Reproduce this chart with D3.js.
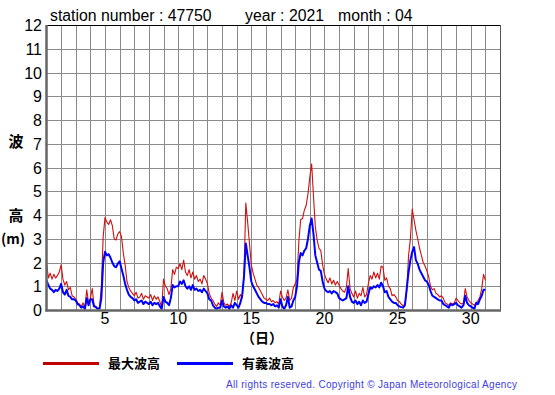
<!DOCTYPE html>
<html><head><meta charset="utf-8">
<script src="https://cdn.jsdelivr.net/npm/d3@7"></script>
<style>
body{margin:0;background:#fff;}
svg text{font-family:"Liberation Sans",Arial,sans-serif;}
</style></head>
<body><svg id="c" width="555" height="395"></svg>
<script>
// 3-hourly values, day 1 00h .. day 31 00h
const maxWave = [
 2.0,1.35,1.55,1.3,1.5,1.35,1.45,1.6,
 1.9,1.3,1.05,1.2,0.85,0.95,0.6,0.55,
 0.45,0.3,0.25,0.15,0.3,0.1,0.85,0.3,
 0.5,0.9,0.2,0.15,0.05,0.1,1.0,3.1,
 3.9,3.7,3.6,3.8,3.55,3.0,2.95,3.2,
 3.3,3.1,2.4,1.9,1.2,0.95,0.8,0.7,
 0.6,0.75,0.5,0.55,0.7,0.45,0.6,0.55,
 0.5,0.65,0.4,0.6,0.45,0.55,0.35,0.1,
 1.3,1.0,0.9,0.65,0.9,1.7,1.5,1.8,
 1.75,1.95,1.7,2.1,1.6,1.45,1.7,1.35,
 1.6,1.3,1.45,1.2,1.3,1.1,1.45,1.3,
 1.1,0.7,0.5,0.4,0.25,0.15,0.3,0.2,
 0.75,0.3,0.2,0.25,0.15,0.3,0.7,0.4,
 0.8,0.45,0.65,0.5,1.5,4.5,3.7,2.8,
 1.9,1.55,1.3,1.05,0.95,0.8,0.65,0.5,
 0.45,0.4,0.5,0.35,0.4,0.3,0.35,0.25,
 0.8,0.55,0.4,0.5,0.85,0.4,0.5,0.95,
 1.1,1.3,2.9,3.8,3.85,4.2,4.4,4.9,
 5.6,6.15,4.8,3.5,2.95,2.6,2.5,1.9,
 1.5,1.3,1.15,1.35,1.1,1.25,1.05,1.2,
 1.05,0.9,0.8,0.75,0.95,1.75,0.9,0.7,
 0.55,0.8,0.5,0.7,0.6,0.95,0.55,0.65,
 1.1,1.45,1.3,1.6,1.35,1.55,1.3,1.85,
 1.8,1.25,1.35,1.0,0.9,0.6,0.65,0.55,
 0.4,0.35,0.25,0.18,0.25,0.8,2.3,3.0,
 4.25,3.8,3.35,3.0,2.6,2.3,2.0,1.85,
 1.65,1.4,1.0,0.85,0.9,0.7,0.65,0.55,
 0.6,0.5,0.3,0.25,0.2,0.3,0.25,0.3,
 0.5,0.4,0.3,0.25,0.3,0.9,0.55,0.4,
 0.3,0.25,0.2,0.3,0.4,0.55,0.9,1.5,
 1.25
];
const sigWave = [
 1.25,1.05,0.9,0.85,0.75,0.85,0.8,0.9,
 1.1,0.75,0.65,0.85,0.6,0.55,0.45,0.45,
 0.4,0.25,0.2,0.1,0.15,0.05,0.5,0.2,
 0.45,0.45,0.15,0.12,0.05,0.05,0.5,2.0,
 2.45,2.3,2.35,2.2,2.0,1.85,1.8,1.95,
 2.05,1.75,1.45,1.1,0.85,0.65,0.55,0.5,
 0.4,0.45,0.3,0.35,0.4,0.25,0.35,0.3,
 0.25,0.35,0.2,0.3,0.25,0.3,0.15,0.05,
 0.55,0.35,0.3,0.2,0.5,1.05,0.95,1.0,
 1.0,1.2,1.1,1.25,1.0,0.9,1.0,0.85,
 1.05,0.85,0.9,0.8,0.85,0.75,0.9,0.8,
 0.7,0.45,0.4,0.2,0.1,0.05,0.1,0.1,
 0.4,0.15,0.1,0.15,0.05,0.2,0.1,0.3,
 0.2,0.1,0.3,0.6,1.4,2.8,2.3,1.8,
 1.2,1.0,0.85,0.7,0.55,0.45,0.35,0.3,
 0.3,0.25,0.25,0.2,0.25,0.15,0.2,0.1,
 0.45,0.15,0.05,0.2,0.55,0.1,0.15,0.4,
 0.55,1.0,2.0,2.4,2.3,2.5,2.6,3.0,
 3.55,3.85,3.2,2.3,2.0,1.7,1.65,1.2,
 0.9,0.8,0.75,0.8,0.7,0.8,0.75,0.7,
 0.5,0.45,0.4,0.45,0.5,1.0,0.55,0.35,
 0.3,0.4,0.25,0.35,0.2,0.4,0.3,0.35,
 0.65,0.95,0.9,1.0,0.95,1.05,0.95,1.15,
 1.0,0.75,0.8,0.55,0.45,0.35,0.3,0.3,
 0.2,0.15,0.12,0.1,0.2,0.9,1.6,2.1,
 2.45,2.65,2.1,1.95,1.7,1.55,1.4,1.25,
 1.2,1.05,0.8,0.6,0.55,0.5,0.45,0.4,
 0.4,0.25,0.2,0.15,0.1,0.25,0.2,0.25,
 0.3,0.2,0.15,0.1,0.2,0.6,0.3,0.2,
 0.15,0.1,0.05,0.3,0.25,0.45,0.6,0.85,
 0.85
];
const xTicks = [5,10,15,20,25,30];
const yTicks = [0,1,2,3,4,5,6,7,8,9,10,11,12];
const titleParts = ["station number : 47750","year : 2021","month : 04"];
const legendLabels = ["最大波高","有義波高"];
const stepsPerDay = 8;

const svg = d3.select("#c");
const L=46.5, R=500, T=25, B=310;
const x = d3.scaleLinear().domain([1,32]).range([L,R]);
const y = d3.scaleLinear().domain([0,12]).range([B,T]);

// grid
const g = svg.append("g");
g.selectAll("line.v").data(d3.range(2,32)).enter().append("line")
 .attr("x1",d=>Math.round(x(d))+0.5).attr("x2",d=>Math.round(x(d))+0.5)
 .attr("y1",T).attr("y2",B).attr("stroke","#8a8a8a").attr("stroke-width",1);
g.selectAll("line.h").data(d3.range(1,12)).enter().append("line")
 .attr("x1",L).attr("x2",R)
 .attr("y1",d=>Math.round(y(d))+0.5).attr("y2",d=>Math.round(y(d))+0.5)
 .attr("stroke","#8a8a8a").attr("stroke-width",1);

// frame
svg.append("line").attr("x1",L).attr("x2",R).attr("y1",T+0.5).attr("y2",T+0.5).attr("stroke","#000");
svg.append("line").attr("x1",R+0.5).attr("x2",R+0.5).attr("y1",T).attr("y2",B).attr("stroke","#555");

// data lines
const line = d3.line().x((d,i)=>x(1+i/stepsPerDay)).y(d=>y(d));
svg.append("path").datum(maxWave).attr("d",line).attr("fill","none")
 .attr("stroke","#d01010").attr("stroke-width",1.1).attr("stroke-linejoin","round");
svg.append("path").datum(sigWave).attr("d",line).attr("fill","none")
 .attr("stroke","#0000ff").attr("stroke-width",2).attr("stroke-linejoin","round");

// axes lines (thick)
svg.append("line").attr("x1",L).attr("x2",L).attr("y1",T).attr("y2",B+1.5).attr("stroke","#666").attr("stroke-width",2.5);
svg.append("line").attr("x1",L-1).attr("x2",R+1).attr("y1",B+0.5).attr("y2",B+0.5).attr("stroke","#666").attr("stroke-width",2.5);

// y tick labels
svg.selectAll("text.yt").data(yTicks).enter().append("text")
 .attr("x",42).attr("y",d=>y(d)+6).attr("text-anchor","end")
 .attr("font-size",16).attr("fill","#000").text(d=>d);
// x tick labels
svg.selectAll("text.xt").data(xTicks).enter().append("text")
 .attr("x",d=>x(d)).attr("y",324).attr("text-anchor","middle")
 .attr("font-size",16).attr("fill","#000").text(d=>d);

// axis titles
const jp = '"Noto Sans CJK JP",sans-serif';
svg.append("text").attr("x",16).attr("y",147).attr("text-anchor","middle").attr("font-size",15).attr("font-weight","bold").style("font-family",jp).text("波");
svg.append("text").attr("x",16).attr("y",221).attr("text-anchor","middle").attr("font-size",15).attr("font-weight","bold").style("font-family",jp).text("高");
svg.append("text").attr("x",13).attr("y",244).attr("text-anchor","middle").attr("font-size",14).attr("font-weight","bold").style("font-family",jp).text("(m)");
svg.append("text").attr("x",262).attr("y",343).attr("text-anchor","middle").attr("font-size",14).attr("font-weight","bold").style("font-family",jp).text("（日）");

// title
const tx=[50,245,338];
titleParts.forEach((t,i)=>svg.append("text").attr("x",tx[i]).attr("y",21).attr("font-size",15.8).attr("fill","#000").text(t));

// legend
const lc=["#c00000","#0000ff"], lx=[43,177];
legendLabels.forEach((t,i)=>{
 svg.append("line").attr("x1",lx[i]).attr("x2",lx[i]+56).attr("y1",363.5).attr("y2",363.5).attr("stroke",lc[i]).attr("stroke-width",3);
 svg.append("text").attr("x",lx[i]+65).attr("y",368).attr("font-size",13).attr("font-weight","bold").style("font-family",jp).text(t);
});

// copyright
svg.append("text").attr("x",226).attr("y",388).attr("font-size",10).attr("fill","#4040e0")
 .attr("textLength",291).attr("lengthAdjust","spacing")
 .text("All rights reserved. Copyright © Japan Meteorological Agency");
</script></body></html>
